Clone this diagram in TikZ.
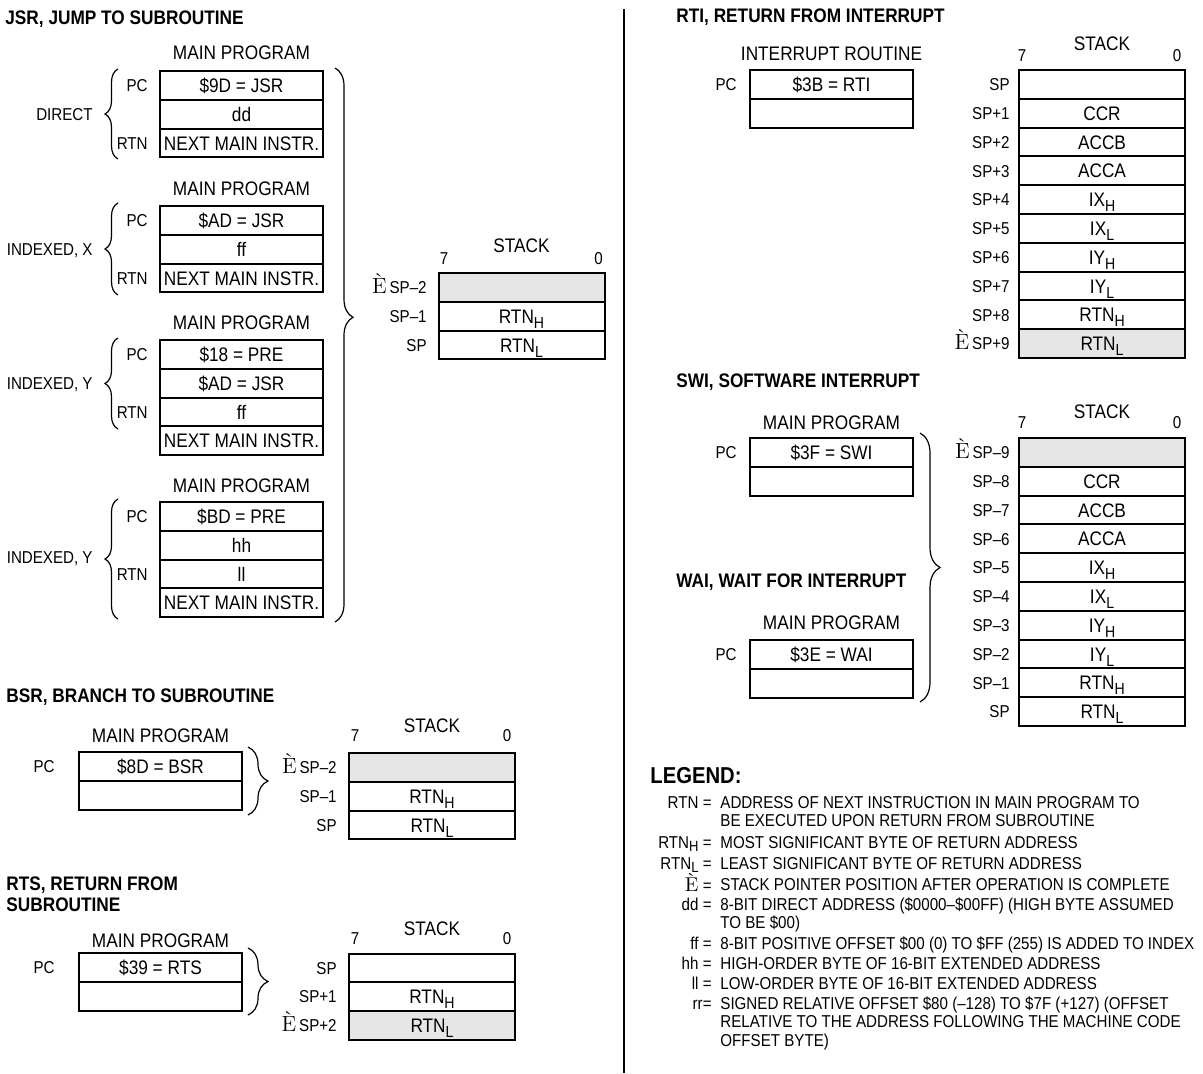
\documentclass[tikz,border=0pt]{standalone}
\usepackage{fontspec}
\newfontfamily\narrowsf{Liberation Sans}[FakeStretch=0.88]
\usetikzlibrary{decorations.pathreplacing}
\definecolor{pushgray}{RGB}{230,230,230}
\newcommand\boxfont{\narrowsf\fontsize{9.8}{11}\selectfont}
\newcommand\labelfont{\narrowsf\fontsize{8.6}{10}\selectfont}
\newcommand\headfont{\narrowsf\bfseries\fontsize{9.8}{10.5}\selectfont}
\newcommand\legendfont{\narrowsf\fontsize{8.6}{10}\selectfont}
\newcommand\spmark{{\rmfamily\fontsize{11}{11}\selectfont È}}
\newcommand\lowsub[1]{\raisebox{-0.5ex}{\fontsize{8}{8}\selectfont #1}}
\newcommand\keysub[1]{\raisebox{-0.4ex}{\fontsize{7.4}{7.4}\selectfont #1}}

\begin{document}
\begin{tikzpicture}[x=0.5pt,y=-0.5pt]
\tikzset{
  progcell/.style={draw,line width=1pt,minimum width=81.5pt,minimum height=14.4pt,inner sep=0pt,outer sep=0pt,text height=7pt,text depth=0pt,font=\boxfont},
  stackcell/.style={progcell,minimum width=83pt},
  pushed/.style={fill=pushgray},
  sidelabel/.style={anchor=east,inner sep=0pt,text height=6.2pt,text depth=0pt,font=\labelfont},
  bitno/.style={inner sep=0pt,text height=6.2pt,text depth=0pt,font=\labelfont},
  boxcaption/.style={inner sep=0pt,text height=7pt,text depth=0pt,font=\boxfont},
  heading/.style={anchor=west,inner sep=0pt,text height=7pt,text depth=0pt,font=\headfont},
  legkey/.style={anchor=east,inner sep=0pt,text height=6.2pt,text depth=0pt,font=\legendfont},
  legtext/.style={anchor=west,inner sep=0pt,text height=6.2pt,text depth=0pt,font=\legendfont},
  leftbrace/.style={decorate,decoration={brace,amplitude=6.5pt},line width=0.6pt},
  rightbrace/.style={decorate,decoration={brace,amplitude=10pt},line width=0.6pt},
  divider/.style={line width=1pt}
}
\useasboundingbox (0,0) rectangle (1203,1073);
\coordinate (c_div_top) at (624,9);
\coordinate (c_div_bot) at (624,1073);
\draw[divider] (c_div_top) -- (c_div_bot);
\node[heading] (n_jsr_head) at (5,17) {JSR, JUMP TO SUBROUTINE};
\node[boxcaption] (n_dir_cap) at (241.5,52) {MAIN PROGRAM};
\node[progcell] (n_dir_1) at (241.5,85.4) {\$9D = JSR};
\node[progcell] (n_dir_2) at (241.5,114.2) {dd};
\node[progcell] (n_dir_3) at (241.5,143) {NEXT MAIN INSTR.};
\node[sidelabel] (n_dir_pc) at (148,85.4) {PC};
\node[sidelabel] (n_dir_rtn) at (148,143) {RTN};
\coordinate (c_dir_lo) at (118,159);
\coordinate (c_dir_hi) at (118,69);
\draw[leftbrace] (c_dir_lo) -- (c_dir_hi);
\node[sidelabel] (n_dir_mode) at (93,114) {DIRECT};
\node[boxcaption] (n_idx_cap) at (241.5,188) {MAIN PROGRAM};
\node[progcell] (n_idx_1) at (241.5,220.4) {\$AD = JSR};
\node[progcell] (n_idx_2) at (241.5,249.2) {ff};
\node[progcell] (n_idx_3) at (241.5,278) {NEXT MAIN INSTR.};
\node[sidelabel] (n_idx_pc) at (148,220.4) {PC};
\node[sidelabel] (n_idx_rtn) at (148,278) {RTN};
\coordinate (c_idx_lo) at (118,295);
\coordinate (c_idx_hi) at (118,203);
\draw[leftbrace] (c_idx_lo) -- (c_idx_hi);
\node[sidelabel] (n_idx_mode) at (93,249) {INDEXED, X};
\node[boxcaption] (n_idy_cap) at (241.5,322) {MAIN PROGRAM};
\node[progcell] (n_idy_1) at (241.5,354.4) {\$18 = PRE};
\node[progcell] (n_idy_2) at (241.5,383.2) {\$AD = JSR};
\node[progcell] (n_idy_3) at (241.5,412) {ff};
\node[progcell] (n_idy_4) at (241.5,440.8) {NEXT MAIN INSTR.};
\node[sidelabel] (n_idy_pc) at (148,354.4) {PC};
\node[sidelabel] (n_idy_rtn) at (148,412) {RTN};
\coordinate (c_idy_lo) at (118,429);
\coordinate (c_idy_hi) at (118,338);
\draw[leftbrace] (c_idy_lo) -- (c_idy_hi);
\node[sidelabel] (n_idy_mode) at (93,383) {INDEXED, Y};
\node[boxcaption] (n_ext_cap) at (241.5,485) {MAIN PROGRAM};
\node[progcell] (n_ext_1) at (241.5,516.4) {\$BD = PRE};
\node[progcell] (n_ext_2) at (241.5,545.2) {hh};
\node[progcell] (n_ext_3) at (241.5,574) {ll};
\node[progcell] (n_ext_4) at (241.5,602.8) {NEXT MAIN INSTR.};
\node[sidelabel] (n_ext_pc) at (148,516.4) {PC};
\node[sidelabel] (n_ext_rtn) at (148,574) {RTN};
\coordinate (c_ext_lo) at (118,619);
\coordinate (c_ext_hi) at (118,499);
\draw[leftbrace] (c_ext_lo) -- (c_ext_hi);
\node[sidelabel] (n_ext_mode) at (93,557) {INDEXED, Y};
\coordinate (c_jsr_hi) at (335,68);
\coordinate (c_jsr_lo) at (335,622);
\draw[rightbrace,decoration={aspect=0.45,amplitude=9pt}] (c_jsr_hi) -- (c_jsr_lo);
\node[boxcaption] (n_jsr_stack) at (521.5,245) {STACK};
\node[bitno] (n_jsr_b7) at (444,258) {7};
\node[bitno] (n_jsr_b0) at (598.5,258) {0};
\node[stackcell,pushed] (n_jsr_s0) at (521.5,287.4) {};
\node[stackcell] (n_jsr_s1) at (521.5,316.2) {RTN\lowsub{H}};
\node[stackcell] (n_jsr_s2) at (521.5,345) {RTN\lowsub{L}};
\node[sidelabel] (n_jsr_l0) at (427,287.4) {\spmark\,SP–2};
\node[sidelabel] (n_jsr_l1) at (427,316.2) {SP–1};
\node[sidelabel] (n_jsr_l2) at (427,345) {SP};
\node[heading] (n_bsr_head) at (6,695) {BSR, BRANCH TO SUBROUTINE};
\node[boxcaption] (n_bsr_cap) at (160.5,735) {MAIN PROGRAM};
\node[progcell] (n_bsr_1) at (160.5,766.4) {\$8D = BSR};
\node[progcell] (n_bsr_2) at (160.5,795.2) {};
\node[sidelabel] (n_bsr_pc) at (55,766.4) {PC};
\coordinate (c_bsr_hi) at (248,747);
\coordinate (c_bsr_lo) at (248,815);
\draw[rightbrace] (c_bsr_hi) -- (c_bsr_lo);
\node[boxcaption] (n_bsr_stack) at (432,725) {STACK};
\node[bitno] (n_bsr_b7) at (355,735) {7};
\node[bitno] (n_bsr_b0) at (507,735) {0};
\node[stackcell,pushed] (n_bsr_s0) at (432,767.4) {};
\node[stackcell] (n_bsr_s1) at (432,796.2) {RTN\lowsub{H}};
\node[stackcell] (n_bsr_s2) at (432,825) {RTN\lowsub{L}};
\node[sidelabel] (n_bsr_l0) at (337,767.4) {\spmark\,SP–2};
\node[sidelabel] (n_bsr_l1) at (337,796.2) {SP–1};
\node[sidelabel] (n_bsr_l2) at (337,825) {SP};
\node[heading] (n_rts_head) at (6,883) {RTS, RETURN FROM};
\node[heading] (n_rts_head_b) at (6,904) {SUBROUTINE};
\node[boxcaption] (n_rts_cap) at (160.5,940) {MAIN PROGRAM};
\node[progcell] (n_rts_1) at (160.5,967.4) {\$39 = RTS};
\node[progcell] (n_rts_2) at (160.5,996.2) {};
\node[sidelabel] (n_rts_pc) at (55,967.4) {PC};
\coordinate (c_rts_hi) at (248,948);
\coordinate (c_rts_lo) at (248,1015);
\draw[rightbrace] (c_rts_hi) -- (c_rts_lo);
\node[boxcaption] (n_rts_stack) at (432,928) {STACK};
\node[bitno] (n_rts_b7) at (355,938) {7};
\node[bitno] (n_rts_b0) at (507,938) {0};
\node[stackcell] (n_rts_s0) at (432,967.9) {};
\node[stackcell] (n_rts_s1) at (432,996.7) {RTN\lowsub{H}};
\node[stackcell,pushed] (n_rts_s2) at (432,1025.5) {RTN\lowsub{L}};
\node[sidelabel] (n_rts_l0) at (337,967.9) {SP};
\node[sidelabel] (n_rts_l1) at (337,996.7) {SP+1};
\node[sidelabel] (n_rts_l2) at (337,1025.5) {\spmark\,SP+2};
\node[heading] (n_rti_head) at (676,15) {RTI, RETURN FROM INTERRUPT};
\node[boxcaption] (n_rti_cap) at (831.5,53) {INTERRUPT ROUTINE};
\node[progcell] (n_rti_1) at (831.5,84.4) {\$3B = RTI};
\node[progcell] (n_rti_2) at (831.5,113.2) {};
\node[sidelabel] (n_rti_pc) at (737,84.4) {PC};
\node[boxcaption] (n_rti_stack) at (1102,43) {STACK};
\node[bitno] (n_rti_b7) at (1022,55) {7};
\node[bitno] (n_rti_b0) at (1177,55) {0};
\node[stackcell] (n_rti_s0) at (1102,84.4) {};
\node[stackcell] (n_rti_s1) at (1102,113.2) {CCR};
\node[stackcell] (n_rti_s2) at (1102,142) {ACCB};
\node[stackcell] (n_rti_s3) at (1102,170.8) {ACCA};
\node[stackcell] (n_rti_s4) at (1102,199.6) {IX\lowsub{H}};
\node[stackcell] (n_rti_s5) at (1102,228.4) {IX\lowsub{L}};
\node[stackcell] (n_rti_s6) at (1102,257.2) {IY\lowsub{H}};
\node[stackcell] (n_rti_s7) at (1102,286) {IY\lowsub{L}};
\node[stackcell] (n_rti_s8) at (1102,314.8) {RTN\lowsub{H}};
\node[stackcell,pushed] (n_rti_s9) at (1102,343.6) {RTN\lowsub{L}};
\node[sidelabel] (n_rti_l0) at (1010,84.4) {SP};
\node[sidelabel] (n_rti_l1) at (1010,113.2) {SP+1};
\node[sidelabel] (n_rti_l2) at (1010,142) {SP+2};
\node[sidelabel] (n_rti_l3) at (1010,170.8) {SP+3};
\node[sidelabel] (n_rti_l4) at (1010,199.6) {SP+4};
\node[sidelabel] (n_rti_l5) at (1010,228.4) {SP+5};
\node[sidelabel] (n_rti_l6) at (1010,257.2) {SP+6};
\node[sidelabel] (n_rti_l7) at (1010,286) {SP+7};
\node[sidelabel] (n_rti_l8) at (1010,314.8) {SP+8};
\node[sidelabel] (n_rti_l9) at (1010,343.6) {\spmark\,SP+9};
\node[heading] (n_swi_head) at (676,380) {SWI, SOFTWARE INTERRUPT};
\node[boxcaption] (n_swi_cap) at (831.5,422) {MAIN PROGRAM};
\node[progcell] (n_swi_1) at (831.5,452.4) {\$3F = SWI};
\node[progcell] (n_swi_2) at (831.5,481.2) {};
\node[sidelabel] (n_swi_pc) at (737,452.4) {PC};
\node[heading] (n_wai_head) at (676,580) {WAI, WAIT FOR INTERRUPT};
\node[boxcaption] (n_wai_cap) at (831.5,622) {MAIN PROGRAM};
\node[progcell] (n_wai_1) at (831.5,654.4) {\$3E = WAI};
\node[progcell] (n_wai_2) at (831.5,683.2) {};
\node[sidelabel] (n_wai_pc) at (737,654.4) {PC};
\coordinate (c_swi_hi) at (920,433);
\coordinate (c_swi_lo) at (920,702);
\draw[rightbrace] (c_swi_hi) -- (c_swi_lo);
\node[boxcaption] (n_swi_stack) at (1102,411) {STACK};
\node[bitno] (n_swi_b7) at (1022,422) {7};
\node[bitno] (n_swi_b0) at (1177,422) {0};
\node[stackcell,pushed] (n_swi_s0) at (1102,452.4) {};
\node[stackcell] (n_swi_s1) at (1102,481.2) {CCR};
\node[stackcell] (n_swi_s2) at (1102,510) {ACCB};
\node[stackcell] (n_swi_s3) at (1102,538.8) {ACCA};
\node[stackcell] (n_swi_s4) at (1102,567.6) {IX\lowsub{H}};
\node[stackcell] (n_swi_s5) at (1102,596.4) {IX\lowsub{L}};
\node[stackcell] (n_swi_s6) at (1102,625.2) {IY\lowsub{H}};
\node[stackcell] (n_swi_s7) at (1102,654) {IY\lowsub{L}};
\node[stackcell] (n_swi_s8) at (1102,682.8) {RTN\lowsub{H}};
\node[stackcell] (n_swi_s9) at (1102,711.6) {RTN\lowsub{L}};
\node[sidelabel] (n_swi_l0) at (1010,452.4) {\spmark\,SP–9};
\node[sidelabel] (n_swi_l1) at (1010,481.2) {SP–8};
\node[sidelabel] (n_swi_l2) at (1010,510) {SP–7};
\node[sidelabel] (n_swi_l3) at (1010,538.8) {SP–6};
\node[sidelabel] (n_swi_l4) at (1010,567.6) {SP–5};
\node[sidelabel] (n_swi_l5) at (1010,596.4) {SP–4};
\node[sidelabel] (n_swi_l6) at (1010,625.2) {SP–3};
\node[sidelabel] (n_swi_l7) at (1010,654) {SP–2};
\node[sidelabel] (n_swi_l8) at (1010,682.8) {SP–1};
\node[sidelabel] (n_swi_l9) at (1010,711.6) {SP};
\node[heading,font=\narrowsf\bfseries\fontsize{11.5}{12}\selectfont,text height=8.2pt] (n_leg_head) at (650,775) {LEGEND:};
\node[legkey] (n_key_rtn) at (712,802) {RTN =};
\node[legtext] (n_leg_rtn) at (720,802) {ADDRESS OF NEXT INSTRUCTION IN MAIN PROGRAM TO};
\node[legtext] (n_leg_rtn_b) at (720,820) {BE EXECUTED UPON RETURN FROM SUBROUTINE};
\node[legkey] (n_key_rtnh) at (712,842) {RTN\keysub{H} =};
\node[legtext] (n_leg_rtnh) at (720,842) {MOST SIGNIFICANT BYTE OF RETURN ADDRESS};
\node[legkey] (n_key_rtnl) at (712,863) {RTN\keysub{L} =};
\node[legtext] (n_leg_rtnl) at (720,863) {LEAST SIGNIFICANT BYTE OF RETURN ADDRESS};
\node[legkey] (n_key_sp) at (712,885) {{\rmfamily\fontsize{10}{10}\selectfont È}\ =};
\node[legtext] (n_leg_sp) at (720,884) {STACK POINTER POSITION AFTER OPERATION IS COMPLETE};
\node[legkey] (n_key_dd) at (712,904) {dd =};
\node[legtext] (n_leg_dd) at (720,904) {8-BIT DIRECT ADDRESS (\$0000–\$00FF) (HIGH BYTE ASSUMED};
\node[legtext] (n_leg_dd_b) at (720,922) {TO BE \$00)};
\node[legkey] (n_key_ff) at (712,943) {ff =};
\node[legtext] (n_leg_ff) at (720,943) {8-BIT POSITIVE OFFSET \$00 (0) TO \$FF (255) IS ADDED TO INDEX};
\node[legkey] (n_key_hh) at (712,963) {hh =};
\node[legtext] (n_leg_hh) at (720,963) {HIGH-ORDER BYTE OF 16-BIT EXTENDED ADDRESS};
\node[legkey] (n_key_ll) at (712,983) {ll =};
\node[legtext] (n_leg_ll) at (720,983) {LOW-ORDER BYTE OF 16-BIT EXTENDED ADDRESS};
\node[legkey] (n_key_rr) at (712,1003) {rr=};
\node[legtext] (n_leg_rr) at (720,1003) {SIGNED RELATIVE OFFSET \$80 (–128) TO \$7F (+127) (OFFSET};
\node[legtext] (n_leg_rr_b) at (720,1021) {RELATIVE TO THE ADDRESS FOLLOWING THE MACHINE CODE};
\node[legtext] (n_leg_rr_c) at (720,1040) {OFFSET BYTE)};
\end{tikzpicture}
\end{document}
